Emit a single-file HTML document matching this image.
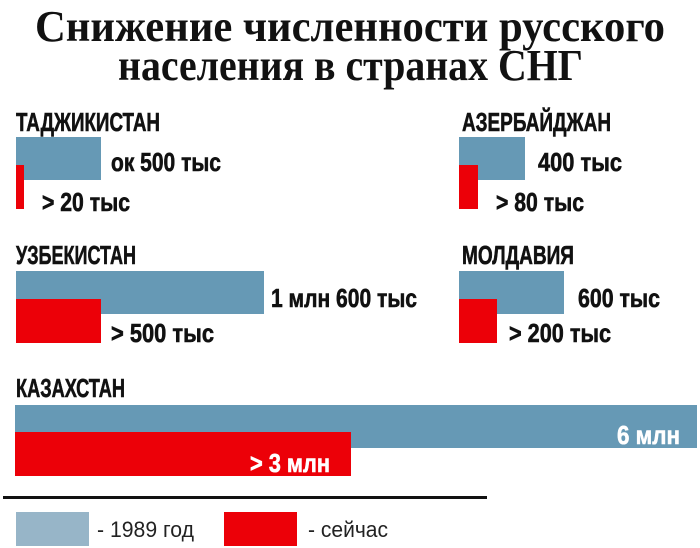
<!DOCTYPE html>
<html><head><meta charset="utf-8"><style>body{margin:0;background:#fff}svg{display:block}</style></head>
<body>
<svg width="700" height="548" xmlns="http://www.w3.org/2000/svg">
<g font-family="Liberation Serif, serif" font-weight="bold" font-size="44" fill="#111">
<text x="35" y="41" textLength="630" lengthAdjust="spacingAndGlyphs">Снижение численности русского</text>
<text x="118" y="80" textLength="465" lengthAdjust="spacingAndGlyphs">населения в странах СНГ</text>
</g>
<g fill="#6699b5">
<rect x="16" y="137" width="85" height="43"/>
<rect x="16" y="271" width="248" height="43"/>
<rect x="15" y="405" width="682" height="43"/>
<rect x="459" y="137" width="66" height="43"/>
<rect x="459" y="271" width="105" height="43"/>
</g>
<g fill="#ec0008">
<rect x="16" y="165" width="8" height="44"/>
<rect x="16" y="299" width="85" height="44"/>
<rect x="15" y="432" width="336" height="44"/>
<rect x="459" y="165" width="19" height="44"/>
<rect x="459" y="299" width="38" height="44"/>
</g>
<g font-family="Liberation Sans, sans-serif" font-weight="bold" font-size="26" fill="#111" stroke="#111" stroke-width="0.6">
<text x="16" y="131" textLength="144" lengthAdjust="spacingAndGlyphs">ТАДЖИКИСТАН</text>
<text x="111" y="171" textLength="110" lengthAdjust="spacingAndGlyphs">ок 500 тыс</text>
<text x="42" y="211" textLength="88" lengthAdjust="spacingAndGlyphs">&gt; 20 тыс</text>
<text x="16" y="264" textLength="120" lengthAdjust="spacingAndGlyphs">УЗБЕКИСТАН</text>
<text x="271" y="307" textLength="146" lengthAdjust="spacingAndGlyphs">1 млн 600 тыс</text>
<text x="111" y="342" textLength="103" lengthAdjust="spacingAndGlyphs">&gt; 500 тыс</text>
<text x="462" y="131" textLength="149" lengthAdjust="spacingAndGlyphs">АЗЕРБАЙДЖАН</text>
<text x="538" y="171" textLength="84" lengthAdjust="spacingAndGlyphs">400 тыс</text>
<text x="496" y="211" textLength="88" lengthAdjust="spacingAndGlyphs">&gt; 80 тыс</text>
<text x="462" y="264" textLength="112" lengthAdjust="spacingAndGlyphs">МОЛДАВИЯ</text>
<text x="578" y="307" textLength="82" lengthAdjust="spacingAndGlyphs">600 тыс</text>
<text x="509" y="342" textLength="102" lengthAdjust="spacingAndGlyphs">&gt; 200 тыс</text>
<text x="16" y="397" textLength="109" lengthAdjust="spacingAndGlyphs">КАЗАХСТАН</text>
<text x="617" y="444" fill="#fff" stroke="#fff" textLength="63" lengthAdjust="spacingAndGlyphs">6 млн</text>
<text x="250" y="472" fill="#fff" stroke="#fff" textLength="80" lengthAdjust="spacingAndGlyphs">&gt; 3 млн</text>
</g>
<rect x="3" y="496" width="484" height="3" fill="#111"/>
<rect x="16" y="512" width="73" height="34" fill="#97b5c8"/>
<rect x="224" y="512" width="73" height="34" fill="#ec0008"/>
<g font-family="Liberation Sans, sans-serif" font-size="22" fill="#222">
<text x="97" y="537" textLength="97" lengthAdjust="spacingAndGlyphs">- 1989 год</text>
<text x="308" y="537" textLength="80" lengthAdjust="spacingAndGlyphs">- сейчас</text>
</g>
</svg>
</body></html>
